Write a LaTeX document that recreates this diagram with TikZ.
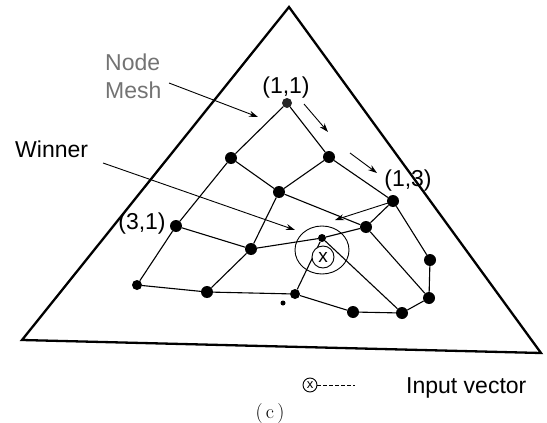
\documentclass[tikz,border=0pt]{standalone}
\usepackage{fontspec}
\newfontfamily\lblfont{Liberation Sans}
\usetikzlibrary{arrows.meta,shapes.geometric}
\begin{document}
\begin{tikzpicture}[x=1pt,y=-1pt,
  frame/.style={line width=2.3pt,line join=miter},
  meshline/.style={line width=1.1pt},
  dot/.style={circle,fill=black,inner sep=0pt,minimum size=12pt},
  smalldot/.style={circle,fill=black,inner sep=0pt,minimum size=8pt},
  lbl/.style={font=\lblfont\fontsize{23}{27}\selectfont,inner sep=0pt},
  graylbl/.style={lbl,text=black!55},
  ptr/.style={line width=0.9pt,-{Stealth[length=9pt,width=6pt]}},
  xcirc/.style={circle,draw,line width=0.9pt,inner sep=0pt},
  ]
\useasboundingbox (0,0) rectangle (547,423);
% triangle
\coordinate (A) at (289,7);
\coordinate (B) at (22,340);
\coordinate (C) at (541,353);
\draw[frame] (A) -- (B) -- (C) -- cycle;
% mesh nodes
\node[dot,minimum size=10pt,fill=black!85] (n11) at (287,103) {};
\node[dot] (n12) at (329,157) {};
\node[dot] (n13) at (393,201) {};
\node[dot] (n14) at (430,260) {};
\node[dot] (n21) at (231,158) {};
\node[dot] (n22) at (279,192) {};
\node[dot] (n23) at (366,227) {};
\node[dot] (n24) at (429,298) {};
\node[dot] (n31) at (176,226) {};
\node[dot] (n32) at (251,249) {};
\node[smalldot] (n33) at (322,238) {};
\node[dot] (n34) at (402,313) {};
\node[dot,minimum size=10pt] (n41) at (137,285) {};
\node[dot] (n42) at (207,292) {};
\node[dot,minimum size=10pt] (n43) at (295,294) {};
\node[dot] (n44) at (353,312) {};
\node[circle,fill=black,inner sep=0pt,minimum size=5pt] (stray) at (283,303) {};
% mesh edges
\draw[meshline] (n11) -- (n12) -- (n13) -- (n14);
\draw[meshline] (n21) -- (n22) -- (n23) -- (n24);
\draw[meshline] (n31) -- (n32) -- (n33) -- (n34);
\draw[meshline] (n41) -- (n42) -- (n43) -- (n44);
\draw[meshline] (n11) -- (n21) -- (n31) -- (n41);
\draw[meshline] (n12) -- (n22) -- (n32) -- (n42);
\draw[meshline] (n13) -- (n23) -- (n33) -- (n43);
\draw[meshline] (n14) -- (n24) -- (n34) -- (n44);
% winner neighbourhood and input vector
\node[draw,ellipse,line width=0.9pt,minimum width=54pt,minimum height=48pt,inner sep=0pt] (nbhd) at (322,250) {};
\node[xcirc,fill=white,minimum size=22pt,font=\lblfont\fontsize{19}{19}\selectfont] (xin) at (323,257) {x};
% labels
\node[lbl,anchor=center] (l11) at (286,88) {(1,1)};
\node[lbl,anchor=center] (l13) at (408,181) {(1,3)};
\node[lbl,anchor=center] (l31) at (142,224) {(3,1)};
\node[lbl,anchor=base west] (win) at (15,157) {Winner};
\node[graylbl,anchor=base west] (nodet) at (105,70) {Node};
\node[graylbl,anchor=base west] (mesht) at (105,98) {Mesh};
% pointers
\coordinate (mshA) at (169,83);
\coordinate (mshB) at (258,117);
\draw[ptr] (mshA) -- (mshB);
\coordinate (winA) at (103,163);
\coordinate (winB) at (295,230);
\draw[ptr] (winA) -- (winB);
\coordinate (pA) at (304,104);
\coordinate (pB) at (328,132);
\draw[ptr] (pA) -- (pB);
\coordinate (qA) at (350,153);
\coordinate (qB) at (377,173);
\draw[ptr] (qA) -- (qB);
\coordinate (rA) at (388,203);
\coordinate (rB) at (335,220);
\draw[ptr] (rA) -- (rB);
% legend
\node[xcirc,minimum size=14pt,font=\lblfont\fontsize{13}{13}\selectfont] (legx) at (310,385) {x};
\coordinate (legd) at (355,385);
\draw[line width=0.9pt,dash pattern=on 3.5pt off 2.5pt] (legx) -- (legd);
\node[lbl,anchor=base west] (legt) at (406,393) {Input vector};
\node[font=\fontsize{20}{24}\selectfont,inner sep=0pt] (cap) at (270,414) {(\,c\,)};
\end{tikzpicture}
\end{document}
